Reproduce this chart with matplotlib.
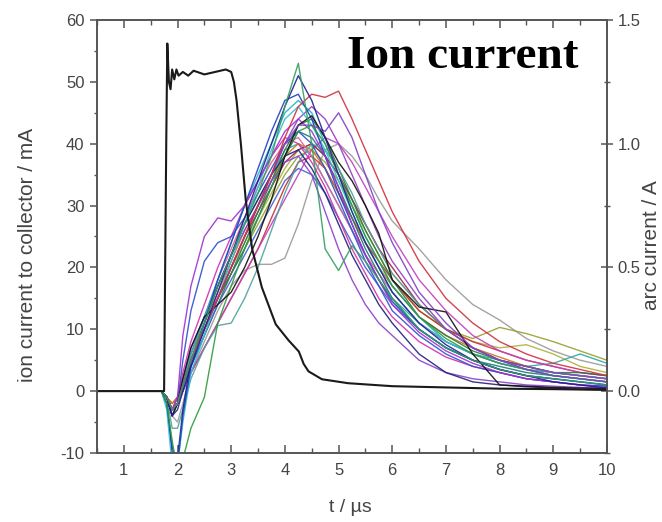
import matplotlib
matplotlib.use("Agg")
import matplotlib.pyplot as plt
from matplotlib.ticker import MultipleLocator

plt.rcParams['font.family'] = ['Liberation Sans', 'DejaVu Sans']
plt.rcParams['axes.unicode_minus'] = False

# time grid for ion-current traces (µs)
t_ion = [0.5, 1.7, 1.8, 1.9, 2.0, 2.1, 2.25, 2.5, 2.75, 3.0, 3.25, 3.5, 3.75, 4.0, 4.25,
         4.5, 4.75, 5.0, 5.25, 5.5, 5.75, 6.0, 6.5, 7.0, 7.5, 8.0, 8.5, 9.0, 9.5, 10.0]

# ion current to collector traces (mA)
ion_green_tall = [0,0,-1,-3,-2,1,5,11,17,22,27,32,38,46,53,40,23,19.5,23.5,21,18,15,10,7,5,3.5,2.5,2,1.5,1]
ion_navy = [0,0,-1,-4,-3,0,4,10,16,22,28,34,40,46,51,47,41,35,29,24,20,16,11,7.5,5,3.5,2.5,1.5,1,0.5]
ion_red = [0,0,-1,-3,-2,1,5,10,15,20,25,30,35,41,46,48,47.5,48.5,44,39,34,29,21,15,11,8,6,4.5,3.5,2.5]
ion_purple = [0,0,-1,-3,-2,1,5,10,15,20,25,30,35,40,43,43,42,45,41,35,29,24,16,11,7,5,3.5,2.5,2,1.5]
ion_gray = [0,0,-1,-4,-5,-2,3,8,13,17,19.5,20.5,20.5,21.5,27,34,39,40,38,35,31,27.5,23,18,14,11.5,8.5,6.5,5,4]
ion_violet_early = [0,0,-1,-3,-1,9,17,25,28,27.5,30,34,38,42,44,42,38,33,27,22,18,14,9.5,6.5,4.5,3,2,1.5,1,0.5]
ion_green_late = [0,0,-2,-8,-13,-11,-6,-1,11,17,23,28,33,38,42,43,40,35,30,25,21,17,12,8.5,6,4.5,3.5,2.5,2,1.5]
ion_olive = [0,0,-1,-2,-1,1,5,10,15,19,23,27,31,35,38,39,37,34,30,26,22,18,13,10,8.5,10.3,9.3,8,6.5,5]
ion_teal = [0,0,-1,-3,-2,1,6,12,17,22,27,31,35,39,40,38,34,30,26,22,18,15,11,8,6,5,4,4.5,6,4.5]
ion_black = [0,0,-1,-4,-2,2,7,12,14,16,20,25,31,38,43,44.5,41,37,34,30,25.5,18,13.6,12.8,6,1,0.8,0.6,0.5,0.4]
ion_blue = [0,0,-2,-9,-12,-4,4,11,18,24,30,36,42,47,48,44,38,32,27,22,18,14.5,10,7,5,3.5,2.5,2,1.5,1]
ion_cyan = [0,0,-3,-12,-12,-5,3,9,15,21,27,33,39,44,46,43,39,34,29,24,20,16,11,8,6,4.5,3.5,2.5,2,1.5]
ion_magenta = [0,0,-1,-3,-1,3,8,14,20,25,30,34,38,41,40,37,33,28,23,19,15,12,8,5.5,4,3,2,1.5,1,0.8]
ion_wine = [0,0,-1,-3,-2,1,5,10,15,20,25,29,33,37,39,40,38,35,31,27,23,20,14,10,7,5,4,3,2.5,2]
ion_orange = [0,0,-1,-2,-1,2,6,11,16,21,26,30,34,38,40,39,36,32,28,24,20,17,12,9,7,5.5,4,3,2.5,2]
ion_royal = [0,0,-1,-4,-2,5,13,21,24,25,28,32,36,40,42,40,36,31,26,21,17,13,9,6,4,3,2,1.5,1,0.8]
ion_violet = [0,0,-1,-3,-1,2,7,12,17,22,26,30,34,37,38,35,29,23,18,14,11,9,5,3,2,1.5,1,0.8,0.6,0.5]
ion_darkteal = [0,0,-1,-3,-2,1,5,10,15,19,23,28,33,38,42,41,38,33,28,23,19,15,10,7,5,4,3,2.5,2,1.5]
ion_pink = [0,0,-1,-3,-2,1,6,12,18,23,28,33,37,40,41,38,34,30,26,22,19,16,11,8,6,4.5,3.5,3,2.5,2]
ion_darkgreen = [0,0,-1,-3,-2,1,4,9,14,19,24,29,34,39,43,44,41,36,31,26,22,18,12,9,6.5,5,4,3,3,2.5]
ion_navy2 = [0,0,-2,-10,-11,-3,5,11,17,22,27,31,35,38,39,36,32,27,22,18,14,11,6,3,1.5,1,0.7,0.5,0.3,0.2]
ion_red2 = [0,0,-1,-3,-2,0,3,7,11,15,19,23,28,33,37,38,36,32,28,24,21,18,13,10,8,6.5,5,4,3,2.5]
ion_cyan2 = [0,0,-1,-3,-2,1,6,12,18,24,30,35,40,45,47,45,40,35,30,25,21,17,12,8,6,4.5,3.5,3,2.5,2]
ion_purple2 = [0,0,-1,-4,-2,1,5,10,15,20,25,30,35,40,44,46,44,40,35,30,25,21,15,10,7,5,4,3,2.5,2]
ion_lime = [0,0,-1,-2,-1,1,5,10,15,20,24,28,32,36,39,40,38,35,31,27,23,19,14,10,8,7,7.5,6,4,3]
ion_teal2 = [0,0,-1,-6,-6,-3,2,7,10.6,11,15,20,26,32,37,40,39,36,32,27,23,19,14,10,7,5,3.5,2.5,2,1.5]
ion_blue2 = [0,0,-1,-3,-2,0,4,9,14,18,22,26,30,34,36,35,32,28,24,20,17,14,10,7,5,3.5,2.5,2,1.5,1]
ion_magenta2 = [0,0,-1,-3,-2,0,3,7,11,15,19,23,27,31,35,39,41,40,37,33,29,25,18,13,9,6.5,5,4,3,2.5]

ion_series = [
    (ion_gray, '#9a9a9a'), (ion_lime, '#b0b040'), (ion_olive, '#98a030'),
    (ion_teal, '#30a8a8'), (ion_red2, '#c83030'), (ion_magenta2, '#c040c0'),
    (ion_wine, '#a02050'), (ion_orange, '#d07020'), (ion_pink, '#e060a0'),
    (ion_darkteal, '#207878'), (ion_darkgreen, '#2e7a3e'), (ion_blue2, '#4060d0'),
    (ion_teal2, '#50a0a0'), (ion_violet, '#8a40d0'), (ion_navy2, '#20207a'),
    (ion_magenta, '#d030b0'), (ion_royal, '#3050c8'), (ion_cyan2, '#20b0c8'),
    (ion_purple2, '#9040c0'), (ion_cyan, '#30c0d0'), (ion_blue, '#2040c0'),
    (ion_violet_early, '#a030d0'), (ion_green_late, '#2e9a3e'), (ion_black, '#101010'),
    (ion_purple, '#8040c8'), (ion_red, '#d03040'), (ion_navy, '#202090'),
    (ion_green_tall, '#30a060'),
]

# arc current (A)
t_arc = [0.5, 1.75, 1.79, 1.81, 1.84, 1.87, 1.9, 1.94, 1.98, 2.02, 2.1, 2.2, 2.3, 2.5, 2.7,
         2.9, 3.0, 3.05, 3.1, 3.18, 3.27, 3.39, 3.57, 3.83, 4.07, 4.26, 4.35, 4.44, 4.69,
         5.18, 6.0, 7.0, 8.0, 9.0, 10.0]
arc_current = [0, 0, 1.0, 1.405, 1.25, 1.22, 1.30, 1.26, 1.30, 1.275, 1.29, 1.275, 1.295,
               1.28, 1.29, 1.30, 1.29, 1.25, 1.175, 1.0, 0.775, 0.575, 0.42, 0.27, 0.205,
               0.16, 0.11, 0.08, 0.048, 0.032, 0.02, 0.015, 0.01, 0.008, 0.005]

x_ticks = [1, 2, 3, 4, 5, 6, 7, 8, 9, 10]
y_ticks = [-10, 0, 10, 20, 30, 40, 50, 60]
y2_ticks = [0.0, 0.5, 1.0, 1.5]

fig = plt.figure(figsize=(6.62, 5.22), dpi=100)
ax = fig.add_axes([0.1465, 0.1322, 0.7704, 0.8295])
ax2 = ax.twinx()

for vals, col in ion_series:
    ax.plot(t_ion, vals, color=col, lw=1.0, alpha=0.9)

ax2.plot(t_arc, arc_current, color='#1a1a1a', lw=1.5)

ax.set_xlim(0.5, 10)
ax.set_ylim(-10, 60)
ax2.set_ylim(-0.25, 1.5)

spine_col = '#555555'
lab_col = '#444444'
for a in (ax, ax2):
    for s in a.spines.values():
        s.set_color(spine_col)
        s.set_linewidth(1.2)

ax.set_xticks(x_ticks)
ax.set_yticks(y_ticks)
ax2.set_yticks(y2_ticks)
ax2.set_yticklabels(['0.0', '0.5', '1.0', '1.5'])
ax.xaxis.set_minor_locator(MultipleLocator(0.5))
ax.yaxis.set_minor_locator(MultipleLocator(5))
ax2.yaxis.set_minor_locator(MultipleLocator(0.25))

ax.tick_params(axis='x', which='both', direction='in', top=True, colors=spine_col,
               labelcolor=lab_col, labelsize=12, pad=7)
ax.tick_params(axis='x', which='major', length=6, width=1.1)
ax.tick_params(axis='x', which='minor', length=3.5, width=1.0)
ax.tick_params(axis='y', which='both', direction='out', colors=spine_col,
               labelcolor=lab_col, labelsize=12, pad=4)
ax.tick_params(axis='y', which='major', length=5, width=1.1)
ax.tick_params(axis='y', which='minor', length=2.5, width=1.0)
ax2.tick_params(axis='y', which='both', direction='inout', colors=spine_col,
                labelcolor=lab_col, labelsize=12)
ax2.tick_params(axis='y', which='major', length=8, width=1.1)
ax2.tick_params(axis='y', which='minor', length=5, width=1.0)

fig.text(0.530, 0.027, 't / µs', color=lab_col, fontsize=14, ha='center', va='center')
fig.text(0.041, 0.5115, 'ion current to collector / mA', color=lab_col, fontsize=15,
         rotation=90, ha='center', va='center')
fig.text(0.984, 0.5307, 'arc current / A', color=lab_col, fontsize=15,
         rotation=90, ha='center', va='center')

ax.text(0.49, 0.889, 'Ion current', transform=ax.transAxes, ha='left', va='baseline',
        fontsize=34, fontweight='bold', family='Liberation Serif', color='black')

fig.savefig('out.png', dpi=100)
